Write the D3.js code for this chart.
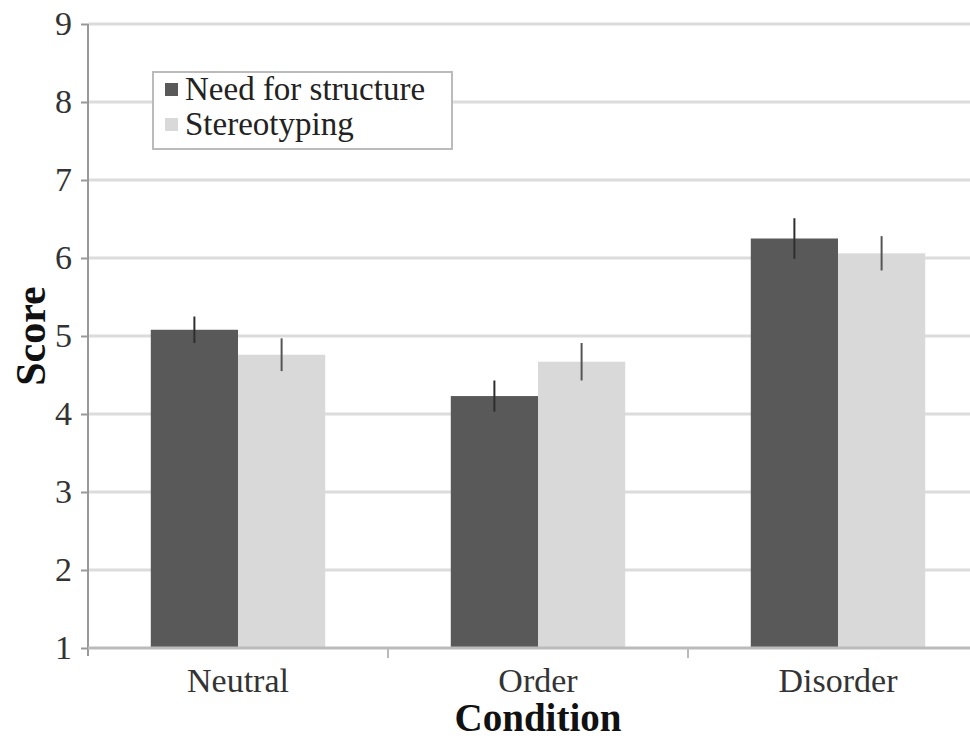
<!DOCTYPE html>
<html><head><meta charset="utf-8">
<script src="https://cdnjs.cloudflare.com/ajax/libs/d3/7.8.5/d3.min.js"></script>
<style>body{margin:0;background:#fff}svg{display:block}text{font-family:'Liberation Serif','Times New Roman',serif}</style>
</head><body>
<script>
const categories = ["Neutral", "Order", "Disorder"];
const seriesNames = ["Need for structure", "Stereotyping"];
const needForStructure = [5.08, 4.23, 6.25];
const stereotyping = [4.76, 4.67, 6.06];
const needErr = [0.17, 0.20, 0.26];
const stereoErr = [0.21, 0.24, 0.22];
const yTicks = [1, 2, 3, 4, 5, 6, 7, 8, 9];
const colors = ["#595959", "#d9d9d9"];

const W = 970, H = 740;
const svg = d3.select("body").append("svg").attr("width", W).attr("height", H);
const font = "'Liberation Serif', 'Times New Roman', serif";

const y = d3.scaleLinear().domain([1, 9]).range([648, 24]);
const x = d3.scaleBand().domain(categories).range([88, 988]).paddingInner(0).paddingOuter(0);
const x1 = d3.scaleBand().domain(seriesNames).range([0, x.bandwidth()]).paddingOuter(0.72).paddingInner(0);

// gridlines
svg.append("g").selectAll("line").data(yTicks.slice(1)).join("line")
  .attr("x1", 88).attr("x2", W).attr("y1", d => y(d)).attr("y2", d => y(d))
  .attr("stroke", "#dcdcdc").attr("stroke-width", 3);

// bars
const series = [needForStructure, stereotyping];
const errs = [needErr, stereoErr];
seriesNames.forEach((s, si) => {
  const g = svg.append("g");
  g.selectAll("rect").data(categories).join("rect")
    .attr("x", c => x(c) + x1(s))
    .attr("width", x1.bandwidth())
    .attr("y", (c, i) => y(series[si][i]))
    .attr("height", (c, i) => y(1) - y(series[si][i]))
    .attr("fill", colors[si]);
  g.selectAll("line").data(categories).join("line")
    .attr("x1", c => x(c) + x1(s) + x1.bandwidth() / 2)
    .attr("x2", c => x(c) + x1(s) + x1.bandwidth() / 2)
    .attr("y1", (c, i) => y(series[si][i] + errs[si][i]))
    .attr("y2", (c, i) => y(series[si][i] - errs[si][i]))
    .attr("stroke", si === 0 ? "#2e2e2e" : "#555").attr("stroke-width", 2);
});

// y axis
const yAxis = svg.append("g").attr("transform", "translate(88,0)")
  .call(d3.axisLeft(y).tickValues(yTicks).tickSize(7).tickPadding(9).tickFormat(d3.format("d")));
yAxis.attr("font-family", null);
yAxis.select(".domain").attr("stroke", "#999").attr("stroke-width", 2).attr("d", "M0,24V656");
yAxis.selectAll(".tick line").attr("stroke", "#999").attr("stroke-width", 2);
yAxis.selectAll("text").style("font-family", font).style("font-size", "34px").attr("fill", "#333");

// x axis
const xAxis = svg.append("g").attr("transform", "translate(0,648)")
  .call(d3.axisBottom(x).tickSize(0).tickPadding(22));
xAxis.attr("font-family", null);
xAxis.select(".domain").attr("stroke", "#bbb").attr("stroke-width", 3).attr("d", "M88,0H" + W);
xAxis.selectAll("text").attr("y", 44).attr("dy", 0)
  .style("font-family", font).style("font-size", "34px").attr("fill", "#333");
// category separator ticks
svg.append("g").selectAll("line").data(categories.slice(1)).join("line")
  .attr("x1", c => x(c)).attr("x2", c => x(c)).attr("y1", 648).attr("y2", 658)
  .attr("stroke", "#bbb").attr("stroke-width", 2);

// axis titles
svg.append("text").attr("x", 538).attr("y", 731).attr("text-anchor", "middle")
  .style("font-family", font).attr("font-weight", "bold").style("font-size", "39px").attr("fill", "#111")
  .text("Condition");
svg.append("text").attr("transform", "translate(45,336) rotate(-90)").attr("text-anchor", "middle")
  .style("font-family", font).attr("font-weight", "bold").style("font-size", "42px").attr("fill", "#111")
  .text("Score");

// legend
const lg = svg.append("g");
lg.append("rect").attr("x", 153).attr("y", 72).attr("width", 299).attr("height", 77)
  .attr("fill", "#fff").attr("stroke", "#bbb").attr("stroke-width", 2);
seriesNames.forEach((s, i) => {
  lg.append("rect").attr("x", 165).attr("y", 83 + i * 35).attr("width", 13).attr("height", 13).attr("fill", colors[i]);
  lg.append("text").attr("x", 185).attr("y", 100 + i * 35)
    .style("font-family", font).style("font-size", "33px").attr("fill", "#222").text(s);
});
</script>
</body></html>
